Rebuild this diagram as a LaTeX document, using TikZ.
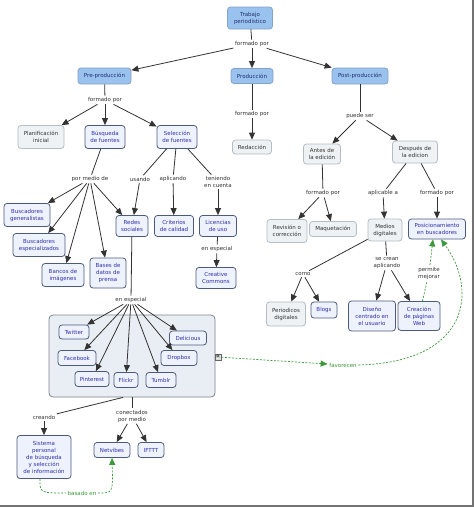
\documentclass[tikz,border=0pt]{standalone}
\usepackage{fontspec}
\setmainfont{DejaVu Sans}
\usetikzlibrary{arrows.meta}
\definecolor{mainfill}{HTML}{9AC2EE}
\definecolor{mainborder}{HTML}{86A2C6}
\definecolor{maintext}{HTML}{1F2F6F}
\definecolor{grayfill}{HTML}{EEF2F5}
\definecolor{grayborder}{HTML}{B4BCC4}
\definecolor{bluefill}{HTML}{EEF2FC}
\definecolor{blueborder}{HTML}{4C5A7C}
\definecolor{bluetext}{HTML}{3030A8}
\definecolor{linkgreen}{HTML}{3C9A3C}
\definecolor{grpfill}{HTML}{E8EEF3}
\definecolor{grpborder}{HTML}{7E858C}
\tikzset{
 base/.style={rounded corners=3pt, align=center, font=\fontsize{5.5}{7}\selectfont, inner sep=1pt, line width=0.8pt},
 mainc/.style={base, fill=mainfill, draw=mainborder, text=maintext},
 grayc/.style={base, fill=grayfill, draw=grayborder, text=black!80},
 bluec/.style={base, fill=bluefill, draw=blueborder, text=bluetext},
 sz/.style 2 args={minimum width=#1pt, minimum height=#2pt},
 lab/.style={font=\fontsize{5.5}{7}\selectfont, align=center, text=black!80, inner sep=1.5pt},
 glab/.style={lab, text=linkgreen},
 ln/.style={draw=black!80, line width=0.8pt},
 arr/.style={ln, -{Triangle[width=6pt,length=7pt]}},
 gdash/.style={draw=linkgreen, line width=0.7pt, dash pattern=on 2pt off 1.5pt},
 garr/.style={gdash, -{Triangle[width=6pt,length=7pt]}},
}
\begin{document}
\begin{tikzpicture}[x=1pt,y=-1pt]
\useasboundingbox (0,0) rectangle (474,507);
\fill[white] (0,0) rectangle (474,507);
\fill[black!55] (472,0) rectangle (474,507);
\fill[black!55] (0,504.5) rectangle (474,507);

% group container
\node[draw=grpborder, fill=grpfill, rounded corners=4pt, line width=0.8pt, sz={166}{82}] (grp) at (132,356) {};
\node[draw=black!60, fill=black!12, inner sep=0pt, minimum size=6.5pt, font=\fontsize{7}{7}\selectfont] (icon) at (218,357) {«};

% main nodes
\node[mainc, sz={45}{22}] (trabajo) at (250,18) {Trabajo\\periodístico};
\node[mainc, sz={53}{16}] (pre) at (104.5,76) {Pre-producción};
\node[mainc, sz={42}{15}] (prod) at (252,76) {Producción};
\node[mainc, sz={56}{16}] (post) at (360,76) {Post-producción};

% gray nodes
\node[grayc, sz={46}{23}] (plan) at (41,137) {Planificación\\inicial};
\node[grayc, sz={39}{14}] (redac) at (252,147) {Redacción};
\node[grayc, sz={37}{20}] (antes) at (322,154) {Antes de\\la edición};
\node[grayc, sz={45}{22}] (despues) at (415,152) {Después de\\la edicion};
\node[grayc, sz={40}{23}] (revision) at (287,231) {Revisión o\\corrección};
\node[grayc, sz={47}{15}] (maquet) at (333,229) {Maquetación};
\node[grayc, sz={34}{22}] (medios) at (385,230) {Medios\\digitales};
\node[grayc, sz={39}{24}] (periodicos) at (286,314) {Periodicos\\digitales};

% blue nodes
\node[bluec, sz={40}{23}] (busq) at (105,137) {Búsqueda\\de fuentes};
\node[bluec, sz={40}{23}] (selec) at (177,137) {Selección\\de fuentes};
\node[bluec, sz={46}{23}] (bgen) at (27,215) {Buscadores\\generalistas};
\node[bluec, sz={52}{23}] (besp) at (39,245) {Buscadores\\especializados};
\node[bluec, sz={42}{23}] (bancos) at (63,275) {Bancos de\\imágenes};
\node[bluec, sz={36}{30}] (bases) at (108,273) {Bases de\\datos de\\prensa};
\node[bluec, sz={32}{21}] (redes) at (132,226) {Redes\\sociales};
\node[bluec, sz={39}{21}] (criterios) at (174,226) {Criterios\\de calidad};
\node[bluec, sz={37}{21}] (licencias) at (218,226) {Licencias\\de uso};
\node[bluec, sz={40}{21}] (creative) at (216,278) {Creative\\Commons};
\node[bluec, sz={57}{20}] (posic) at (437,229) {Posicionamiento\\en buscadores};
\node[bluec, sz={26}{16}] (blogs) at (324,310) {Blogs};
\node[bluec, sz={47}{30}] (diseno) at (372,316) {Diseño\\centrado en\\el usuario};
\node[bluec, sz={42}{29}] (creacion) at (419,316) {Creación\\de páginas\\Web};
\node[bluec, sz={30}{14}] (twitter) at (74,332) {Twitter};
\node[bluec, sz={38}{15}] (facebook) at (77,358) {Facebook};
\node[bluec, sz={34}{15}] (pinterest) at (92,379) {Pinterest};
\node[bluec, sz={24}{15}] (flickr) at (126,380) {Flickr};
\node[bluec, sz={30}{15}] (tumblr) at (161,380) {Tumblr};
\node[bluec, sz={37}{14}] (delicious) at (188,338) {Delicious};
\node[bluec, sz={36}{15}] (dropbox) at (179,358) {Dropbox};
\node[bluec, sz={54}{43}] (sistema) at (44,457) {Sistema\\personal\\de búsqueda\\y selección\\de información};
\node[bluec, sz={36}{15}] (netvibes) at (112,450) {Netvibes};
\node[bluec, sz={26}{15}] (ifttt) at (151,450) {IFTTT};

% linking phrases
\node[lab] (l1) at (252,44) {formado por};
\node[lab] (l2) at (105,100) {formado por};
\node[lab] (l3) at (252,114) {formado por};
\node[lab] (l4) at (360,116) {puede ser};
\node[lab] (pormedio) at (90,179) {por medio de};
\node[lab] (usando) at (140,179) {usando};
\node[lab] (aplicando) at (173,179) {aplicando};
\node[lab] (teniendo) at (218,182) {teniendo\\en cuenta};
\node[lab] (enesp1) at (217,249) {en especial};
\node[lab] (enesp2) at (131,300) {en especial};
\node[lab] (formado5) at (323,193) {formado por};
\node[lab] (aplicable) at (383,193) {aplicable a};
\node[lab] (formado6) at (437,193) {formado por};
\node[lab] (como) at (303,274) {como};
\node[lab] (secrean) at (387,263) {se crean\\aplicando};
\node[lab] (permite) at (429,273) {permite\\mejorar};
\node[lab] (creando) at (44,417) {creando};
\node[lab] (conectados) at (132,416) {conectados\\por medio};
\node[glab] (favorecen) at (343,365) {favorecen};
\node[glab] (basado) at (82,493) {basado en};

% connections
\draw[ln] (trabajo) -- (l1);
\draw[arr] (l1) -- (pre);
\draw[arr] (l1) -- (prod);
\draw[arr] (l1) -- (post);
\draw[ln] (pre) -- (l2);
\draw[arr] (l2) -- (plan);
\draw[arr] (l2) -- (busq);
\draw[arr] (l2) -- (selec);
\draw[ln] (prod) -- (l3);
\draw[arr] (l3) -- (redac);
\draw[ln] (post) -- (l4);
\draw[arr] (l4) -- (antes);
\draw[arr] (l4) -- (despues);

\draw[ln] (busq) -- (pormedio);
\draw[arr] (pormedio) -- (bgen);
\draw[arr] (pormedio) -- (besp);
\draw[arr] (pormedio) -- (bancos);
\draw[arr] (pormedio) -- (bases);
\draw[arr] (pormedio) -- (redes);
\draw[ln] (selec) -- (usando);
\draw[ln] (selec) -- (aplicando);
\draw[ln] (selec) -- (teniendo);
\draw[arr] (usando) -- (redes);
\draw[arr] (aplicando) -- (criterios);
\draw[arr] (teniendo) -- (licencias);
\draw[ln] (licencias) -- (enesp1);
\draw[arr] (enesp1) -- (creative);

\draw[ln] (antes) -- (formado5);
\draw[arr] (formado5) -- (revision);
\draw[arr] (formado5) -- (maquet);
\draw[ln] (despues) -- (aplicable);
\draw[arr] (aplicable) -- (medios);
\draw[ln] (despues) -- (formado6);
\draw[arr] (formado6) -- (posic);
\draw[ln] (medios) -- (como);
\draw[arr] (como) -- (periodicos);
\draw[arr] (como) -- (blogs);
\draw[ln] (medios) -- (secrean);
\draw[arr] (secrean) -- (diseno);
\draw[arr] (secrean) -- (creacion);

\draw[ln] (redes) -- (enesp2);
\draw[arr] (enesp2) -- (twitter);
\draw[arr] (enesp2) -- (facebook);
\draw[arr] (enesp2) -- (pinterest);
\draw[arr] (enesp2) -- (flickr);
\draw[arr] (enesp2) -- (tumblr);
\draw[arr] (enesp2) -- (dropbox);
\draw[arr] (enesp2) -- (delicious);

\draw[ln] ([xshift=-9pt]grp.south) -- (creando);
\draw[arr] (creando) -- (sistema);
\draw[ln] (grp.south) -- (conectados);
\draw[arr] (conectados) -- (netvibes);
\draw[arr] (conectados) -- (ifttt);

% dashed green links
\draw[gdash] (creacion) -- (permite);
\draw[garr] (permite) -- ([xshift=-4pt]posic.south);
\draw[garr] (icon) -- (favorecen);
\draw[garr] (favorecen.east) .. controls (470,362) and (478,290) .. ([xshift=4pt]posic.south);
\draw[gdash] ([xshift=-4pt]sistema.south) .. controls (40,493) .. (basado.west);
\draw[garr] (basado.east) .. controls (113,493) .. (netvibes.south);
\end{tikzpicture}
\end{document}
